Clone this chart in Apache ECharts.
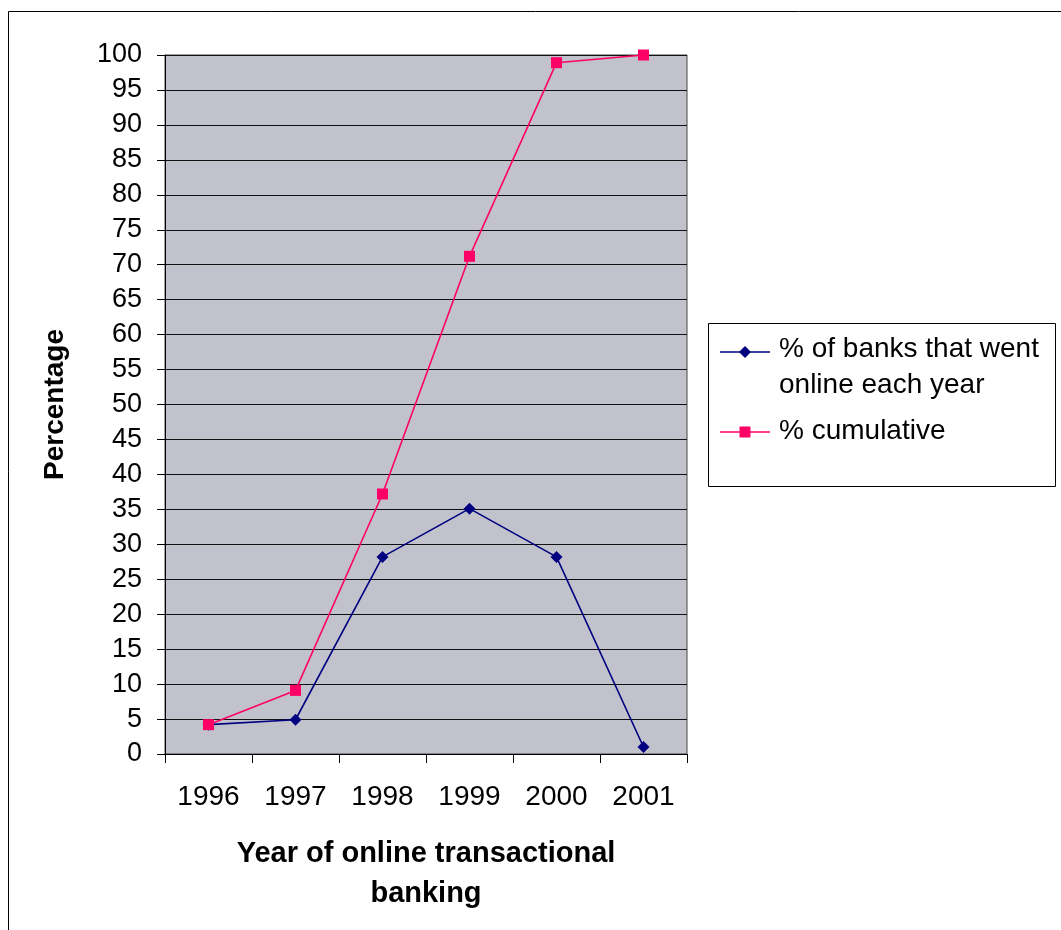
<!DOCTYPE html>
<html>
<head>
<meta charset="utf-8">
<script src="https://cdn.jsdelivr.net/npm/echarts@6/dist/echarts.min.js"></script>
<style>
html,body{margin:0;padding:0;background:#fff;}
#chart{width:1061px;height:930px;}
</style>
</head>
<body>
<div id="chart"></div>
<script>
var years = ['1996', '1997', '1998', '1999', '2000', '2001'];
var perYear = [4.2, 4.9, 28.2, 35.1, 28.2, 1.0];
var cumulative = [4.2, 9.1, 37.2, 71.2, 98.9, 100];
var seriesNames = ['% of banks that went\nonline each year', '% cumulative'];
var yTicks = {min: 0, max: 100, interval: 5};

var FONT = "'Liberation Sans', Arial, sans-serif";
var BLUE = '#000080';
var PINK = '#ff0066';

var chart = echarts.init(document.getElementById('chart'));
chart.setOption({
  animation: false,
  backgroundColor: '#ffffff',
  grid: {
    left: 165, top: 55, right: 374, bottom: 176,
    show: true, backgroundColor: '#c2c2cc', borderColor: '#444', borderWidth: 1
  },
  xAxis: {
    type: 'category',
    data: years,
    boundaryGap: true,
    axisLine: {lineStyle: {color: '#000', width: 1}},
    axisTick: {show: true, length: 9, lineStyle: {color: '#000'}},
    axisLabel: {fontFamily: FONT, fontSize: 28, color: '#000', margin: 29},
    name: 'Year of online transactional\nbanking',
    nameLocation: 'middle',
    nameGap: 80,
    nameTextStyle: {fontFamily: FONT, fontSize: 29, fontWeight: 'bold', color: '#000', lineHeight: 40}
  },
  yAxis: {
    type: 'value',
    min: yTicks.min, max: yTicks.max, interval: yTicks.interval,
    axisLine: {show: true, lineStyle: {color: '#000', width: 1}},
    axisTick: {show: true, length: 8, lineStyle: {color: '#000'}},
    axisLabel: {fontFamily: FONT, fontSize: 27, color: '#000', margin: 23},
    splitLine: {show: true, lineStyle: {color: '#111', width: 1}},
    name: 'Percentage',
    nameLocation: 'middle',
    nameGap: 96,
    nameTextStyle: {fontFamily: FONT, fontSize: 28, fontWeight: 'bold', color: '#000'}
  },
  series: [
    {
      name: seriesNames[0], type: 'line', data: perYear,
      symbol: 'diamond', symbolSize: 12,
      lineStyle: {color: BLUE, width: 1.6},
      itemStyle: {color: BLUE}
    },
    {
      name: seriesNames[1], type: 'line', data: cumulative,
      symbol: 'rect', symbolSize: 11,
      lineStyle: {color: PINK, width: 1.6},
      itemStyle: {color: PINK}
    }
  ],
  graphic: [
    {type: 'rect', shape: {x: 8.5, y: 11.5, width: 1100, height: 1000}, style: {fill: 'none', stroke: '#000', lineWidth: 1}, z: -10},
    {type: 'rect', shape: {x: 708.5, y: 323.5, width: 347, height: 163}, style: {fill: '#fff', stroke: '#000', lineWidth: 1}},
    {type: 'line', shape: {x1: 720, y1: 352, x2: 770, y2: 352}, style: {stroke: BLUE, lineWidth: 1.6}},
    {type: 'polygon', shape: {points: [[745, 346], [751, 352], [745, 358], [739, 352]]}, style: {fill: BLUE}},
    {type: 'text', left: 779, top: 331, style: {text: seriesNames[0], font: '28px ' + FONT, fill: '#000', lineHeight: 36}},
    {type: 'line', shape: {x1: 720, y1: 432, x2: 770, y2: 432}, style: {stroke: PINK, lineWidth: 1.6}},
    {type: 'rect', shape: {x: 739.5, y: 426.5, width: 11, height: 11}, style: {fill: PINK}},
    {type: 'text', left: 779, top: 413, style: {text: seriesNames[1], font: '28px ' + FONT, fill: '#000', lineHeight: 36}}
  ]
});
</script>
</body>
</html>
